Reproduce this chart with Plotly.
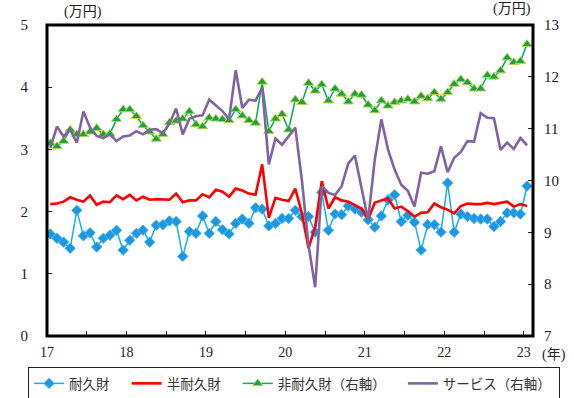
import plotly.graph_objects as go

# Monthly average spending per household, Jan 2017 - Jan 2023
months = list(range(73))  # 0 = 2017-01

durable = [1.64, 1.57, 1.51, 1.41, 2.02, 1.61, 1.66, 1.43, 1.57, 1.62, 1.70, 1.38,
           1.54, 1.65, 1.70, 1.51, 1.78, 1.79, 1.85, 1.84, 1.28, 1.68, 1.65, 1.93,
           1.65, 1.84, 1.71, 1.64, 1.81, 1.88, 1.81, 2.06, 2.04, 1.77, 1.81, 1.89,
           1.89, 2.02, 1.92, 1.92, 1.67, 2.31, 1.70, 1.96, 1.95, 2.09, 2.04, 1.99,
           1.87, 1.75, 1.93, 2.19, 2.27, 1.84, 1.94, 1.83, 1.38, 1.79, 1.79, 1.67,
           2.46, 1.67, 1.96, 1.92, 1.89, 1.88, 1.88, 1.76, 1.84, 1.98, 1.98, 1.96,
           2.41]

semi_durable = [2.12, 2.13, 2.16, 2.23, 2.19, 2.16, 2.26, 2.11, 2.16, 2.15, 2.26, 2.20,
                2.27, 2.18, 2.24, 2.19, 2.20, 2.20, 2.19, 2.29, 2.15, 2.18, 2.18, 2.28,
                2.23, 2.35, 2.32, 2.24, 2.37, 2.34, 2.29, 2.27, 2.76, 1.90, 2.22, 2.19,
                2.17, 2.37, 1.97, 1.41, 1.76, 2.49, 2.05, 2.23, 2.18, 2.16, 2.11, 2.05,
                1.88, 2.14, 2.18, 2.21, 2.05, 2.08, 2.01, 1.92, 1.98, 1.99, 2.13, 2.07,
                2.03, 1.97, 2.09, 2.13, 2.12, 2.12, 2.14, 2.12, 2.14, 2.16, 2.08, 2.12,
                2.09]

non_durable = [10.72, 10.66, 10.76, 10.98, 10.89, 10.89, 10.94, 11.01, 10.89, 10.90, 11.18, 11.37,
               11.37, 11.24, 11.06, 10.94, 10.80, 10.89, 11.12, 11.15, 11.19, 11.33, 11.08, 11.04,
               11.21, 11.19, 11.18, 11.16, 11.37, 11.25, 11.16, 11.11, 11.90, 10.95, 11.19, 11.28,
               10.98, 11.56, 11.51, 11.88, 11.73, 11.85, 11.54, 11.77, 11.67, 11.52, 11.67, 11.65,
               11.46, 11.35, 11.54, 11.44, 11.51, 11.54, 11.57, 11.52, 11.63, 11.58, 11.70, 11.57,
               11.70, 11.86, 11.95, 11.89, 11.77, 11.77, 12.03, 12.00, 12.12, 12.37, 12.28, 12.30,
               12.63]

services = [10.63, 11.04, 10.85, 10.98, 10.73, 11.33, 11.02, 10.86, 10.82, 10.89, 10.76, 10.85,
            10.87, 10.95, 10.89, 10.98, 10.99, 10.91, 11.10, 11.39, 10.89, 11.19, 11.24, 11.26,
            11.56, 11.45, 11.34, 11.18, 12.13, 11.40, 11.56, 11.54, 11.79, 10.31, 10.81, 10.69,
            10.86, 11.02, 10.00, 8.75, 7.94, 9.89, 9.76, 9.72, 9.89, 10.33, 10.48, 9.89,
            9.24, 10.40, 11.18, 10.60, 10.21, 9.92, 9.80, 9.50, 10.15, 10.13, 10.18, 10.66,
            10.16, 10.44, 10.55, 10.76, 10.75, 11.30, 11.21, 11.20, 10.59, 10.73, 10.61, 10.82,
            10.68]

year_labels = ["17", "18", "19", "20", "21", "22", "23"]

SERIF = "Liberation Serif, Noto Sans CJK JP, serif"
JP = "Noto Sans CJK JP, sans-serif"
PAD = "\u00a0" * 4  # extra room after each legend label

fig = go.Figure()

fig.add_trace(go.Scatter(
    x=months, y=non_durable, name="非耐久財（右軸）" + PAD, yaxis="y2", mode="lines+markers",
    line=dict(color="#00b050", width=1.5),
    marker=dict(symbol="triangle-up", size=9, color="#1fa03a",
                line=dict(color="#b9d35e", width=1)),
    legendrank=3,
))
fig.add_trace(go.Scatter(
    x=months, y=services, name="サービス（右軸）" + "\u00a0", yaxis="y2", mode="lines",
    line=dict(color="#8064a2", width=2.6),
    legendrank=4,
))
fig.add_trace(go.Scatter(
    x=months, y=durable, name="耐久財" + PAD, mode="lines+markers",
    line=dict(color="#10b0f0", width=1.5),
    marker=dict(symbol="diamond", size=8, color="#1e96e0",
                line=dict(color="#45b5f0", width=1)),
    legendrank=1,
))
fig.add_trace(go.Scatter(
    x=months, y=semi_durable, name="半耐久財" + PAD, mode="lines",
    line=dict(color="#ff0000", width=2.6),
    legendrank=2,
))

# year ticks on boundaries between Decembers and Januaries, with half-year ticks between
tick_pos = [-0.5 + 6 * k for k in range(13)]
tick_txt = []
for k in range(13):
    tick_txt.append(year_labels[k // 2] if k % 2 == 0 else "")

fig.update_layout(
    width=574, height=398,
    margin=dict(l=47, r=41, t=25, b=62, autoexpand=False),
    paper_bgcolor="white", plot_bgcolor="white",
    font=dict(family=SERIF, color="#222222", size=14),
    showlegend=True,
    xaxis=dict(
        range=[-0.5, 72.9], tickmode="array", tickvals=tick_pos, ticktext=tick_txt,
        ticks="inside", ticklen=5, tickwidth=1, tickcolor="#222",
        showgrid=False, zeroline=False, showline=False,
        tickfont=dict(family=SERIF, size=14), ticklabelstandoff=6,
    ),
    yaxis=dict(
        range=[0, 5], tickmode="array", tickvals=[0, 1, 2, 3, 4, 5],
        ticks="inside", ticklen=5, tickcolor="#222",
        showgrid=False, zeroline=False, showline=False,
        tickfont=dict(family=SERIF, size=15), ticklabelstandoff=18,
    ),
    yaxis2=dict(
        range=[7, 13], tickmode="array", tickvals=[7, 8, 9, 10, 11, 12, 13],
        overlaying="y", side="right",
        ticks="inside", ticklen=5, tickcolor="#222",
        showgrid=False, zeroline=False, showline=False,
        tickfont=dict(family=SERIF, size=15), ticklabelstandoff=10,
    ),
    legend=dict(
        orientation="h", xanchor="left", x=-0.039, yanchor="top", y=-0.1,
        bordercolor="#222", borderwidth=1, bgcolor="white",
        font=dict(family=JP, size=13.5, color="#333"),
        traceorder="normal",
    ),
    shapes=[dict(type="rect", xref="paper", yref="paper", x0=0, y0=0, x1=1, y1=1,
                 line=dict(color="black", width=3), layer="above")],
    annotations=[
        dict(text="(万円)", xref="paper", yref="paper", x=0.03, y=1.0, yshift=13,
             xanchor="left", yanchor="middle", showarrow=False,
             font=dict(family=SERIF, size=14)),
        dict(text="(万円)", xref="paper", yref="paper", x=1.0, y=1.0, yshift=16,
             xanchor="right", yanchor="middle", showarrow=False,
             font=dict(family=SERIF, size=14)),
        dict(text="(年)", xref="paper", yref="paper", x=1.0, y=0.0, xshift=7, yshift=-19,
             xanchor="left", yanchor="middle", showarrow=False,
             font=dict(family=SERIF, size=14)),
    ],
)

fig.write_html("out.html")
